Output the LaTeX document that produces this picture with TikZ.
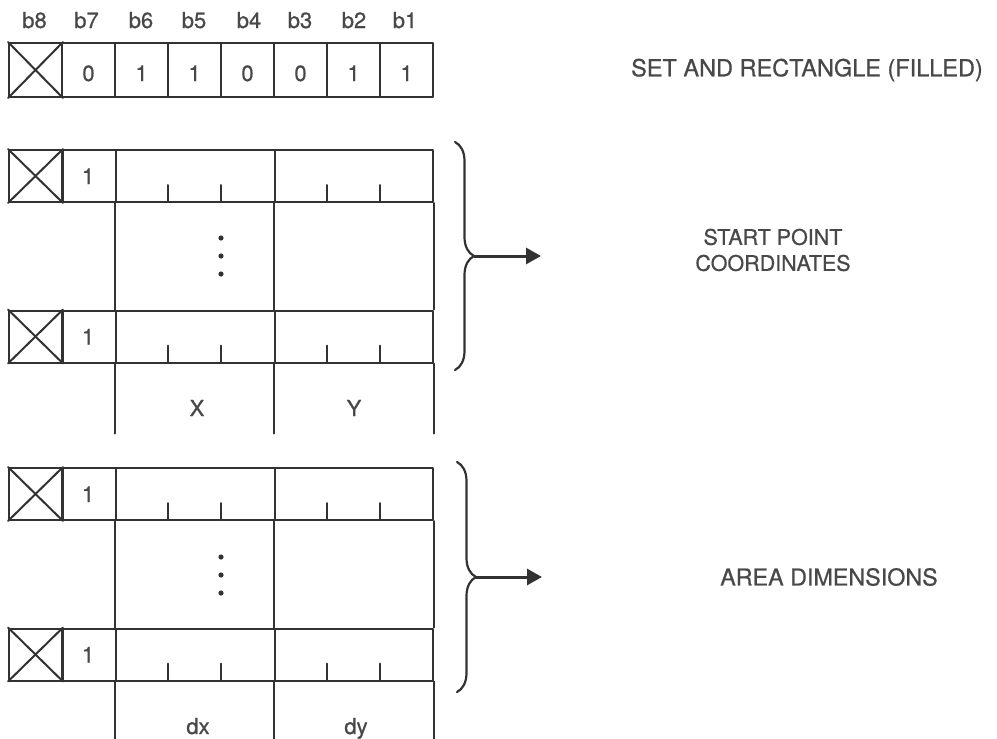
\documentclass[tikz,border=0pt]{standalone}
\usepackage{fontspec}
\setmainfont{TeX Gyre Heros}[FakeBold=0.7]
\usetikzlibrary{arrows.meta,decorations.pathreplacing}
\definecolor{Ink}{RGB}{50,50,50}
\definecolor{Txt}{RGB}{72,72,72}

\begin{document}
\begin{tikzpicture}[x=1pt,y=-1pt,line cap=round,line join=round,
  cell/.style={draw=Ink,line width=2pt,minimum width=53pt,minimum height=53pt,inner sep=0pt},
  field/.style={draw=Ink,line width=2pt,minimum width=158.5pt,minimum height=52pt,inner sep=0pt},
  digit/.style={anchor=base,text=Txt,inner sep=0pt,font=\fontsize{22}{26}\selectfont},
  note/.style={text=Txt,font=\fontsize{22}{27}\selectfont,align=center},
  rule/.style={draw=Ink,line width=2pt},
  brc/.style={draw=Ink,line width=2.2pt,decorate,decoration={brace,amplitude=19pt}},
  pointer/.style={draw=Ink,line width=3pt,-{Triangle[length=15pt,width=16pt]}}]
\path[use as bounding box] (0,0) rectangle (997,739);
% command byte
\node[digit] (lb8) at (34.5,28) {b8};
\node[digit] (lb7) at (86.5,28) {b7};
\node[digit] (lb6) at (141,28) {b6};
\node[digit] (lb5) at (194,28) {b5};
\node[digit] (lb4) at (249,28) {b4};
\node[digit] (lb3) at (300,28) {b3};
\node[digit] (lb2) at (354,28) {b2};
\node[digit] (lb1) at (405,28) {b1};
\node[cell,minimum height=54pt] (b8) at (35.5,70) {};
\node[cell,minimum height=54pt] (b7) at (88.5,70) {};
\node[cell,minimum height=54pt] (b6) at (141.5,70) {};
\node[cell,minimum height=54pt] (b5) at (194.5,70) {};
\node[cell,minimum height=54pt] (b4) at (247.5,70) {};
\node[cell,minimum height=54pt] (b3) at (300.5,70) {};
\node[cell,minimum height=54pt] (b2) at (353.5,70) {};
\node[cell,minimum height=54pt] (b1) at (406.5,70) {};
\node[digit] (v7) at (88.5,81) {0};
\node[digit] (v6) at (141.5,81) {1};
\node[digit] (v5) at (194.5,81) {1};
\node[digit] (v4) at (247.5,81) {0};
\node[digit] (v3) at (300.5,81) {0};
\node[digit] (v2) at (353.5,81) {1};
\node[digit] (v1) at (406.5,81) {1};
\draw[rule] (b8.north west) -- (b8.south east) (b8.south west) -- (b8.north east);
\node[note,font=\fontsize{23.5}{27}\selectfont] (cmd) at (807,70) {SET AND RECTANGLE (FILLED)};
% start point block
\node[cell,minimum height=52pt] (xa1) at (35.5,176) {};
\node[cell,minimum height=52pt] (oa1) at (89,176) {};
\node[field] (fxa1) at (195.25,176) {};
\node[field] (fya1) at (353.75,176) {};
\node[cell,minimum height=52pt] (xa2) at (35.5,336.5) {};
\node[cell,minimum height=52pt] (oa2) at (89,336.5) {};
\node[field] (fxa2) at (195.25,336.5) {};
\node[field] (fya2) at (353.75,336.5) {};
\node[digit] (na1) at (88,184) {1};
\node[digit] (na2) at (88,344.5) {1};
\draw[rule] (xa1.north west) -- (xa1.south east) (xa1.south west) -- (xa1.north east);
\draw[rule] (xa2.north west) -- (xa2.south east) (xa2.south west) -- (xa2.north east);
\draw[rule] (fxa1.south west) -- (fxa2.north west);
\draw[rule] (fya1.south west) -- (fya2.north west);
\draw[rule] (fya1.south east) -- (fya2.north east);
\draw[rule] (fxa2.south west) -- +(0,70);
\draw[rule] (fya2.south west) -- +(0,70);
\draw[rule] (fya2.south east) -- +(0,70);
\draw[rule] (168.3,202) -- (168.3,185) (221.2,202) -- (221.2,185) (327.3,202) -- (327.3,185) (380.2,202) -- (380.2,185);
\draw[rule] (168.3,362.5) -- (168.3,345.5) (221.2,362.5) -- (221.2,345.5) (327.3,362.5) -- (327.3,345.5) (380.2,362.5) -- (380.2,345.5);
\fill[Ink] (221,238) circle[radius=2.6pt] (221,256) circle[radius=2.6pt] (221,274) circle[radius=2.6pt];
\node[digit] (xlbl) at (197,416) {X};
\node[digit] (ylbl) at (354,416) {Y};
\coordinate (bta) at (455,142);
\coordinate (bba) at (455,370);
\coordinate (tipa) at (474,256);
\coordinate (enda) at (541,256);
\draw[brc] (bta) -- (bba);
\draw[pointer] (tipa) -- (enda);
\node[note,font=\fontsize{21.5}{26}\selectfont] (start) at (773,250) {START POINT\\COORDINATES};
% area block
\node[cell,minimum height=52pt] (xb1) at (35.5,494) {};
\node[cell,minimum height=52pt] (ob1) at (89,494) {};
\node[field] (fxb1) at (195.25,494) {};
\node[field] (fyb1) at (353.75,494) {};
\node[cell,minimum height=52pt] (xb2) at (35.5,654.5) {};
\node[cell,minimum height=52pt] (ob2) at (89,654.5) {};
\node[field] (fxb2) at (195.25,654.5) {};
\node[field] (fyb2) at (353.75,654.5) {};
\node[digit] (nb1) at (88,502) {1};
\node[digit] (nb2) at (88,662.5) {1};
\draw[rule] (xb1.north west) -- (xb1.south east) (xb1.south west) -- (xb1.north east);
\draw[rule] (xb2.north west) -- (xb2.south east) (xb2.south west) -- (xb2.north east);
\draw[rule] (fxb1.south west) -- (fxb2.north west);
\draw[rule] (fyb1.south west) -- (fyb2.north west);
\draw[rule] (fyb1.south east) -- (fyb2.north east);
\draw[rule] (fxb2.south west) -- +(0,62);
\draw[rule] (fyb2.south west) -- +(0,62);
\draw[rule] (fyb2.south east) -- +(0,62);
\draw[rule] (168.3,520) -- (168.3,503) (221.2,520) -- (221.2,503) (327.3,520) -- (327.3,503) (380.2,520) -- (380.2,503);
\draw[rule] (168.3,680.5) -- (168.3,663.5) (221.2,680.5) -- (221.2,663.5) (327.3,680.5) -- (327.3,663.5) (380.2,680.5) -- (380.2,663.5);
\fill[Ink] (221,557) circle[radius=2.6pt] (221,575) circle[radius=2.6pt] (221,593) circle[radius=2.6pt];
\node[digit] (dxlbl) at (198,734) {dx};
\node[digit] (dylbl) at (356,734) {dy};
\coordinate (btb) at (457,462);
\coordinate (bbb) at (457,692);
\coordinate (tipb) at (476,577);
\coordinate (endb) at (542,577);
\draw[brc] (btb) -- (bbb);
\draw[pointer] (tipb) -- (endb);
\node[note,font=\fontsize{23.3}{27}\selectfont] (area) at (829,577) {AREA DIMENSIONS};
\end{tikzpicture}
\end{document}
